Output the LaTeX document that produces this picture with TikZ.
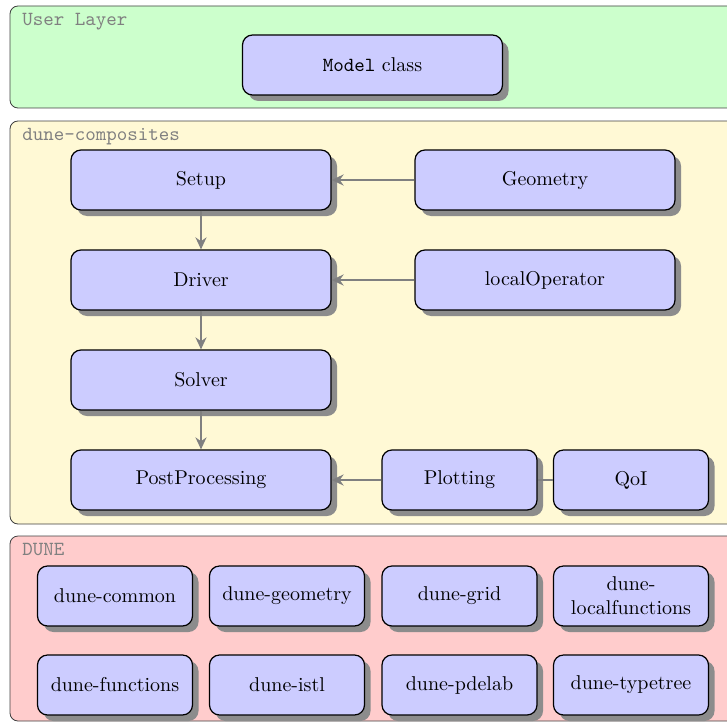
\documentclass[tikz,border=0pt]{standalone}
\usetikzlibrary{shadows,arrows.meta}
\definecolor{layergreen}{RGB}{204,255,204}
\definecolor{layeryellow}{RGB}{255,249,213}
\definecolor{layerred}{RGB}{255,204,204}
\definecolor{boxblue}{RGB}{204,204,255}
\begin{document}
\begin{tikzpicture}[x=0.5pt,y=-0.5pt,
  layer/.style={draw=black!75,rounded corners=4pt,line width=0.4pt},
  layerlabel/.style={anchor=north west,inner sep=0pt,text=gray,font=\ttfamily},
  modbox/.style={draw=black,fill=boxblue,rounded corners=5pt,semithick,
     minimum width=130pt,minimum height=30pt,align=center,inner sep=2pt,
     drop shadow={shadow xshift=3pt,shadow yshift=-3pt,fill=black!45,opacity=1}},
  smallbox/.style={modbox,minimum width=77.5pt},
  link/.style={draw=gray,line width=1pt},
  arr/.style={link,-{Stealth[length=6pt,width=5.5pt]}}]
\useasboundingbox (0,0) rectangle (727,722);
\clip (0,0) rectangle (727,722);
% layers
\draw[layer,fill=layergreen] (10,6) rectangle (745,108);
\draw[layer,fill=layeryellow] (10,121) rectangle (745,524);
\draw[layer,fill=layerred] (10,536) rectangle (745,721);
\node[layerlabel] (lu) at (22,13) {User Layer};
\node[layerlabel] (lc) at (22,128) {dune-composites};
\node[layerlabel] (ld) at (22,543) {DUNE};
% user layer
\node[modbox] (model) at (372.5,65) {\texttt{Model} class};
% dune-composites
\node[modbox] (setup) at (201,180) {Setup};
\node[modbox] (geom) at (545,180) {Geometry};
\node[modbox] (driver) at (201,280) {Driver};
\node[modbox] (lop) at (545,280) {localOperator};
\node[modbox] (solver) at (201,380) {Solver};
\node[modbox] (post) at (201,480) {PostProcessing};
\node[smallbox] (plot) at (459.5,480) {Plotting};
\node[smallbox] (qoi) at (631,480) {QoI};
\draw[arr] (setup) -- (driver);
\draw[arr] (driver) -- (solver);
\draw[arr] (solver) -- (post);
\draw[arr] (geom) -- (setup);
\draw[arr] (lop) -- (driver);
\draw[arr] (plot) -- (post);
\draw[link] (qoi) -- (plot);
% DUNE
\node[smallbox] (dcommon) at (115,596) {dune-common};
\node[smallbox] (dgeom) at (287,596) {dune-geometry};
\node[smallbox] (dgrid) at (459.5,596) {dune-grid};
\node[smallbox] (dlocal) at (631,596) {dune-\\localfunctions};
\node[smallbox] (dfunc) at (115,685) {dune-functions};
\node[smallbox] (distl) at (287,685) {dune-istl};
\node[smallbox] (dpdelab) at (459.5,685) {dune-pdelab};
\node[smallbox] (dtype) at (631,685) {dune-typetree};
\end{tikzpicture}
\end{document}
